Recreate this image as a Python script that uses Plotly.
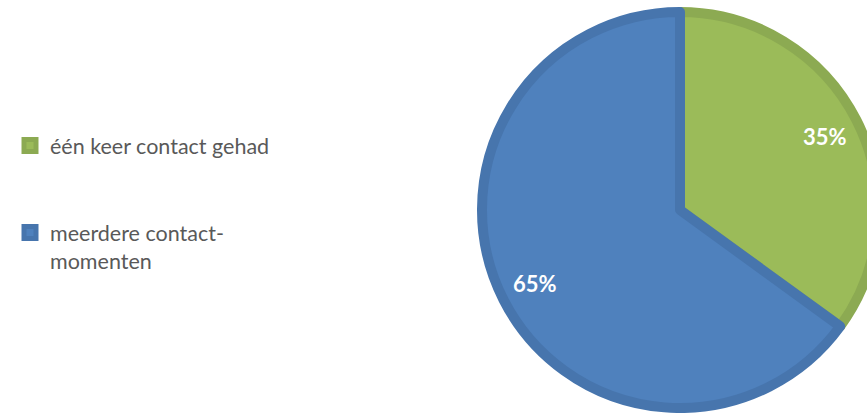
import math
import plotly.graph_objects as go

labels = ["één keer contact gehad", "meerdere contact-<br>momenten"]
values = [35, 65]
fill_colors = ["#9BBB59", "#4F81BD"]
edge_colors = ["#8CAA52", "#4775AD"]

W, H = 900, 413
cx, cy, r = 680, 210, 198  # pixel layout of the pie (path radius)
line_w = 10
label_frac = 0.8  # radial position of the percentage labels

legend_labels = [labels[0] + "<br><br>", labels[1]]

fig = go.Figure(
    go.Pie(
        labels=legend_labels,
        values=values,
        sort=False,
        direction="clockwise",
        rotation=0,
        marker=dict(colors=fill_colors, line=dict(color=edge_colors, width=line_w)),
        textinfo="none",
        hoverinfo="skip",
        domain=dict(
            x=[(cx - r) / W, (cx + r) / W],
            y=[(H - cy - r) / H, (H - cy + r) / H],
        ),
    )
)

# percentage labels at the mid-angle of each slice, derived from the values
total = sum(values)
cum = 0
outer = r + line_w / 2
for v in values:
    mid = (cum + v / 2) / total
    ang = math.radians(90 - 360 * mid)
    px = cx + label_frac * outer * math.cos(ang)
    py = cy - label_frac * outer * math.sin(ang)
    fig.add_annotation(
        x=px / W,
        y=(H - py) / H,
        xref="paper",
        yref="paper",
        text=f"{round(100 * v / total)}%",
        showarrow=False,
        font=dict(family="Lato", size=22, color="white", weight="bold"),
        xanchor="center",
        yanchor="middle",
    )
    cum += v

fig.update_layout(
    width=W,
    height=H,
    autosize=False,
    margin=dict(l=0, r=0, t=0, b=0),
    paper_bgcolor="white",
    plot_bgcolor="white",
    showlegend=True,
    legend=dict(
        x=10 / W,
        y=0.697,
        xanchor="left",
        yanchor="top",
        valign="top",
        font=dict(family="Lato", size=21.5, color="#595959"),
        bgcolor="rgba(0,0,0,0)",
    ),
)

fig.write_html("out.html")
